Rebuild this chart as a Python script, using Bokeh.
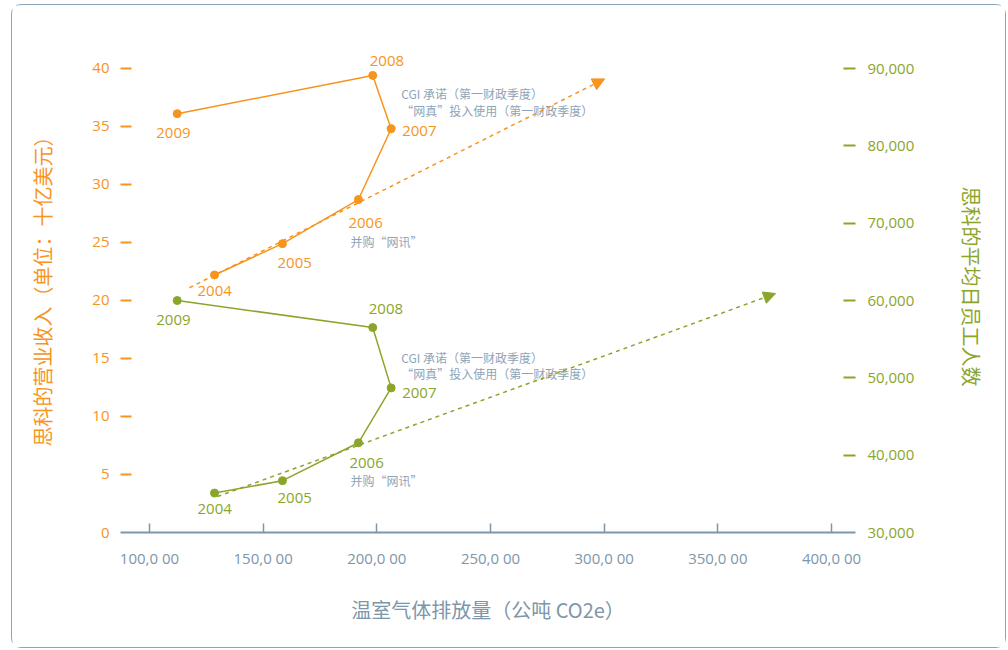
from bokeh.plotting import figure
from bokeh.models import Range1d, LinearAxis, FixedTicker, NumeralTickFormatter, Arrow, NormalHead
from bokeh.core.properties import value
from bokeh.embed import file_html
from bokeh.resources import INLINE

# ---------------- data ----------------
years = ["2004", "2005", "2006", "2007", "2008", "2009"]
emissions = [128600, 158500, 191900, 206300, 198200, 112200]      # metric tons CO2e
revenue = [22.2, 24.9, 28.7, 34.8, 39.4, 36.1]                   # billions USD
employees = [35100, 36700, 41600, 48700, 56500, 60000]           # avg daily employees

rev_trend_x = [117600, 300200]
rev_trend_y = [21.1, 39.1]
emp_trend_x = [129900, 375400]
emp_trend_y = [34650, 60900]

x_ticks = [100000, 150000, 200000, 250000, 300000, 350000, 400000]
x_tick_labels = ["100,0 00", "150,0 00", "200,0 00", "250,0 00", "300,0 00", "350,0 00", "400,0 00"]
rev_ticks = [0, 5, 10, 15, 20, 25, 30, 35, 40]
emp_ticks = [30000, 40000, 50000, 60000, 70000, 80000, 90000]

note_cgi = "CGI 承诺（第一财政季度）"
note_tp = "“网真”投入使用（第一财政季度）"
note_webex = "并购“网讯”"

# ---------------- style ----------------
ORANGE = "#F7941D"
GREEN = "#8BA52B"
AXIS = "#7D96A9"
NOTE = "#8FA4B7"
BORDER = "#8CA5B8"
FONT = "'Open Sans', 'Noto Sans CJK SC', sans-serif"
CJK = "'Noto Sans CJK SC', sans-serif"

rev_dx = [-17, -5, -10, 11, -3, -21]
rev_dy = [16, 19, 23, 2, -14, 19]
emp_dx = [-17, -5, -9, 11, -4, -21]
emp_dy = [16, 17, 20, 5, -19, 19]

p = figure(width=995, height=644, output_backend="svg", toolbar_location=None,
           x_range=Range1d(87250, 410550), y_range=Range1d(0, 42.41),
           min_border_left=108, min_border_right=152, min_border_top=35, min_border_bottom=117,
           background_fill_color="white", border_fill_color="white")
p.extra_y_ranges = {"emp": Range1d(30000, 93621)}
p.outline_line_color = None
p.xgrid.visible = False
p.ygrid.visible = False
p.styles = {"border": "1.5px solid " + BORDER, "border-radius": "10px",
            "margin-left": "11px", "margin-top": "4px"}

# bottom axis
xa = p.xaxis[0]
xa.ticker = FixedTicker(ticks=x_ticks)
xa.major_label_overrides = dict(zip(x_ticks, x_tick_labels))
xa.axis_line_color = AXIS
xa.axis_line_width = 2
xa.major_tick_line_color = AXIS
xa.major_tick_line_width = 1.5
xa.major_tick_in = 9
xa.major_tick_out = 0
xa.minor_tick_line_color = None
xa.major_label_text_color = AXIS
xa.major_label_text_font = FONT
xa.major_label_text_font_size = "15px"
xa.major_label_standoff = 15
xa.axis_label = "温室气体排放量（公吨 CO2e）"
xa.axis_label_text_color = AXIS
xa.axis_label_text_font = CJK
xa.axis_label_text_font_size = "20px"
xa.axis_label_text_font_style = "normal"
xa.axis_label_standoff = 24

# left axis: labels at every tick, dashes (minor ticks) everywhere except on the x axis line
ya = p.yaxis[0]
ya.ticker = FixedTicker(ticks=rev_ticks, minor_ticks=rev_ticks[1:])
ya.axis_line_color = None
ya.major_tick_line_color = None
ya.major_tick_in = 0
ya.major_tick_out = 0
ya.minor_tick_line_color = ORANGE
ya.minor_tick_line_width = 2
ya.minor_tick_in = 11
ya.minor_tick_out = 0
ya.major_label_text_color = ORANGE
ya.major_label_text_font = FONT
ya.major_label_text_font_size = "15px"
ya.major_label_standoff = 11
ya.axis_label = "思科的营业收入（单位：十亿美元）"
ya.axis_label_text_color = ORANGE
ya.axis_label_text_font = CJK
ya.axis_label_text_font_size = "20px"
ya.axis_label_text_font_style = "normal"
ya.axis_label_standoff = 32

# right axis
ra = LinearAxis(y_range_name="emp", ticker=FixedTicker(ticks=emp_ticks, minor_ticks=emp_ticks[1:]),
                formatter=NumeralTickFormatter(format="0,0"))
ra.axis_line_color = None
ra.major_tick_line_color = None
ra.major_tick_in = 0
ra.major_tick_out = 0
ra.minor_tick_line_color = GREEN
ra.minor_tick_line_width = 2
ra.minor_tick_in = 12
ra.minor_tick_out = 0
ra.major_label_text_color = GREEN
ra.major_label_text_font = FONT
ra.major_label_text_font_size = "15px"
ra.major_label_standoff = 12
ra.axis_label = "思科的平均日员工人数"
ra.axis_label_text_color = GREEN
ra.axis_label_text_font = CJK
ra.axis_label_text_font_size = "20px"
ra.axis_label_text_font_style = "normal"
ra.axis_label_standoff = 40
p.add_layout(ra, "right")

# trend arrows
p.add_layout(Arrow(x_start=rev_trend_x[0], y_start=rev_trend_y[0],
                   x_end=rev_trend_x[1], y_end=rev_trend_y[1],
                   line_color=ORANGE, line_width=1.5, line_dash="4 4",
                   end=NormalHead(size=12, fill_color=ORANGE, line_color=ORANGE, line_width=1)))
p.add_layout(Arrow(x_start=emp_trend_x[0], y_start=emp_trend_y[0],
                   x_end=emp_trend_x[1], y_end=emp_trend_y[1], y_range_name="emp",
                   line_color=GREEN, line_width=1.5, line_dash="4 4",
                   end=NormalHead(size=12, fill_color=GREEN, line_color=GREEN, line_width=1)))

# series
p.line(emissions, revenue, line_color=ORANGE, line_width=1.5)
p.scatter(emissions, revenue, size=8, fill_color=ORANGE, line_color=ORANGE)
p.line(emissions, employees, line_color=GREEN, line_width=1.5, y_range_name="emp")
p.scatter(emissions, employees, size=8, fill_color=GREEN, line_color=GREEN, y_range_name="emp")

# year labels
p.text(emissions, revenue, text=years, x_offset=rev_dx, y_offset=rev_dy,
       text_color=ORANGE, text_font=value(FONT), text_font_size="15px",
       text_align="left", text_baseline="middle")
p.text(emissions, employees, text=years, x_offset=emp_dx, y_offset=emp_dy,
       text_color=GREEN, text_font=value(FONT), text_font_size="15px",
       text_align="left", text_baseline="middle", y_range_name="emp")

# notes anchored to data points
i07 = years.index("2007")
i06 = years.index("2006")
p.text([emissions[i07]] * 2, [revenue[i07]] * 2, text=[note_cgi, note_tp],
       x_offset=10, y_offset=[-35, -18], text_color=NOTE, text_font=value(CJK),
       text_font_size="12px", text_align="left", text_baseline="middle")
p.text([emissions[i06]], [revenue[i06]], text=[note_webex],
       x_offset=-8, y_offset=42, text_color=NOTE, text_font=value(CJK),
       text_font_size="12px", text_align="left", text_baseline="middle")
p.text([emissions[i07]] * 2, [employees[i07]] * 2, text=[note_cgi, note_tp],
       x_offset=10, y_offset=[-30, -14], text_color=NOTE, text_font=value(CJK),
       text_font_size="12px", text_align="left", text_baseline="middle", y_range_name="emp")
p.text([emissions[i06]], [employees[i06]], text=[note_webex],
       x_offset=-8, y_offset=38, text_color=NOTE, text_font=value(CJK),
       text_font_size="12px", text_align="left", text_baseline="middle", y_range_name="emp")

open("out.html", "w").write(file_html(p, INLINE))
